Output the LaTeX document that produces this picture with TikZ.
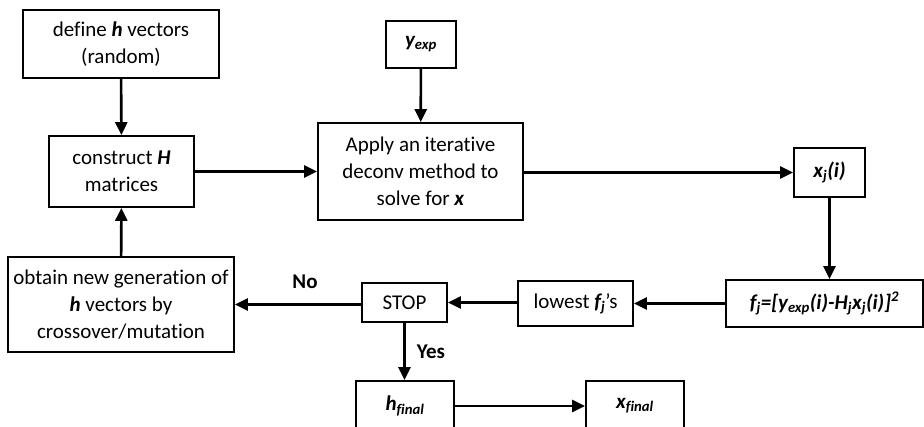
\documentclass[tikz,border=0pt]{standalone}
\usepackage{fontspec}
\setmainfont{Carlito}[Ligatures=NoCommon]
\usetikzlibrary{arrows.meta}
\newcommand{\bvar}[1]{\textbf{\textit{#1}}}
\begin{document}
\begin{tikzpicture}[x=1pt,y=-1pt,
  box/.style={draw,line width=1.8pt,align=center,inner sep=0pt,font=\fontsize{21pt}{27pt}\selectfont},
  conn/.style={line width=2.6pt,-{Triangle[length=13pt,width=12pt]}},
  lbl/.style={font=\fontsize{21pt}{24pt}\selectfont\bfseries}]
\useasboundingbox (0,0) rectangle (924,427);
\node[box,minimum width=196pt,minimum height=68pt] (def) at (121,44) {define \bvar{h} vectors\\(random)};
\node[box,minimum width=145pt,minimum height=71pt] (con) at (121.5,171.5) {construct \bvar{H}\\matrices};
\node[box,minimum width=70pt,minimum height=47pt] (yexp) at (421,44.5) {\bvar{y\textsubscript{exp}}};
\node[box,minimum width=205pt,minimum height=97pt] (app) at (420.5,171.5) {Apply an iterative\\deconv method to\\solve for \bvar{x}};
\node[box,minimum width=71pt,minimum height=49pt] (xj) at (829.5,172.5) {\bvar{x\textsubscript{j}(i)}};
\node[box,minimum width=197pt,minimum height=47pt] (fj) at (824.5,303.5) {\bvar{f\textsubscript{j}=[y\textsubscript{exp}(i)-H\textsubscript{j}x\textsubscript{j}(i)]\textsuperscript{2}}};
\node[box,minimum width=115pt,minimum height=45pt] (low) at (575.5,303.5) {lowest \bvar{f\textsubscript{j}}’s};
\node[box,minimum width=85pt,minimum height=39pt] (stop) at (404.5,302.5) {STOP};
\node[box,minimum width=226pt,minimum height=95pt] (obt) at (121,304.5) {obtain new generation of\\\bvar{h} vectors by\\crossover/mutation};
\node[box,minimum width=98pt,minimum height=50pt] (hf) at (405,406) {\bvar{h\textsubscript{final}}};
\node[box,minimum width=98pt,minimum height=50pt] (xf) at (635,406) {\bvar{x\textsubscript{final}}};
\draw[conn] (def) -- (con);
\draw[conn] (con) -- (app);
\draw[conn] (yexp) -- (app);
\draw[conn] (app.east |- xj) -- (xj);
\draw[conn] (xj) -- (fj.north -| xj);
\draw[conn] (fj.west |- low) -- (low);
\draw[conn] (low.west |- stop) -- (stop);
\draw[conn] (stop.west |- obt) -- (obt);
\draw[conn] (obt) -- (con);
\draw[conn] (stop) -- (hf.north -| stop);
\draw[conn] (hf) -- (xf);
\node[lbl] (no) at (305,282) {No};
\node[lbl] (yes) at (431,352) {Yes};
\end{tikzpicture}
\end{document}
